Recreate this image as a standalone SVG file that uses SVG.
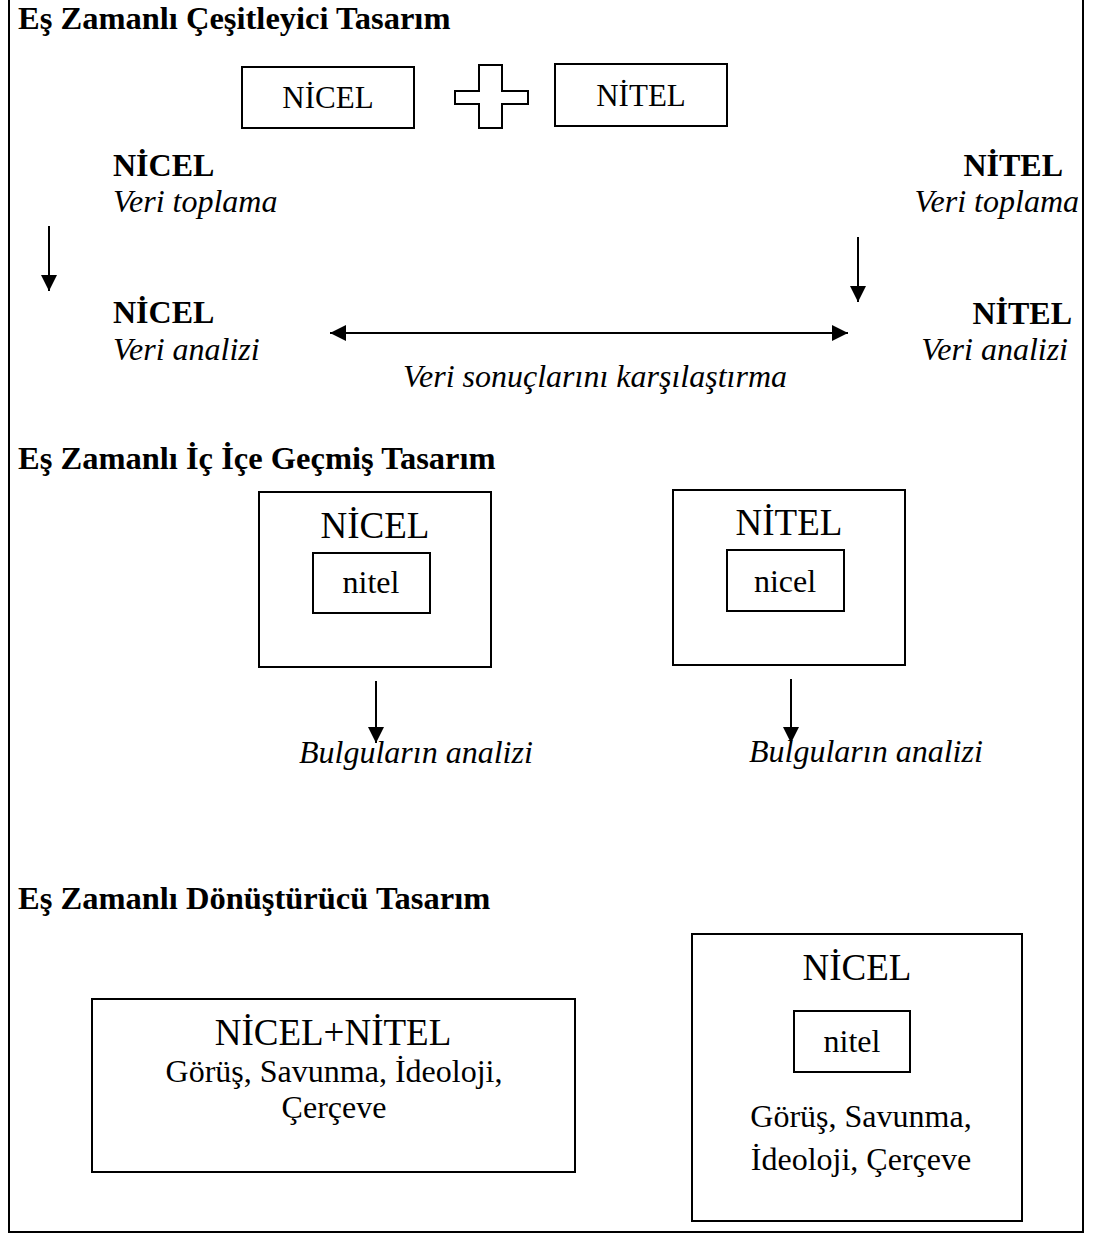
<svg xmlns="http://www.w3.org/2000/svg" width="1098" height="1234" viewBox="0 0 1098 1234">
<style>
text{font-family:"Liberation Serif","Times New Roman",serif;fill:#000}
.t{font-size:32.5px;font-weight:bold}
.b{font-size:32px;font-weight:bold}
.i{font-size:32px;font-style:italic}
.r{font-size:31px}
.big{font-size:37px}
.m{font-size:32px}
.box{fill:none;stroke:#000;stroke-width:2}
.con{stroke:#000;stroke-width:2;fill:none}
</style>
<defs>
<marker id="ah" markerUnits="userSpaceOnUse" markerWidth="16" markerHeight="16" refX="16" refY="8" orient="auto-start-reverse">
<path d="M0,0 L16,8 L0,16 z" fill="#000"/>
</marker>
</defs>
<rect x="9" y="-5" width="1074" height="1237" class="box"/>

<text class="t" x="18" y="29">Eş Zamanlı Çeşitleyici Tasarım</text>
<text class="t" x="18" y="469">Eş Zamanlı İç İçe Geçmiş Tasarım</text>
<text class="t" x="18" y="909">Eş Zamanlı Dönüştürücü Tasarım</text>

<g id="nicel-top">
<rect x="242" y="67" width="172" height="61" class="box"/>
<text class="r" x="328" y="108" text-anchor="middle">NİCEL</text>
</g>
<g id="plus">
<polygon points="479,65 502,65 502,91 528,91 528,104 502,104 502,128 479,128 479,104 455,104 455,91 479,91" class="box"/>
</g>
<g id="nitel-top">
<rect x="555" y="64" width="172" height="62" class="box"/>
<text class="r" x="641" y="106" text-anchor="middle">NİTEL</text>
</g>

<g id="nicel-toplama">
<text class="b" x="113" y="176">NİCEL</text>
<text class="i" x="113" y="212">Veri toplama</text>
</g>
<g id="nicel-analiz">
<text class="b" x="113" y="323">NİCEL</text>
<text class="i" x="113" y="360">Veri analizi</text>
</g>
<g id="nitel-toplama">
<text class="b" x="1063" y="176" text-anchor="end">NİTEL</text>
<text class="i" x="1079" y="212" text-anchor="end">Veri toplama</text>
</g>
<g id="nitel-analiz">
<text class="b" x="1072" y="324" text-anchor="end">NİTEL</text>
<text class="i" x="1068" y="360" text-anchor="end">Veri analizi</text>
</g>
<g id="karsilastirma">
<text class="i" x="403" y="387">Veri sonuçlarını karşılaştırma</text>
</g>

<g id="nested-nicel">
<rect x="259" y="492" width="232" height="175" class="box"/>
<text class="big" x="375" y="538" text-anchor="middle">NİCEL</text>
<rect x="313" y="553" width="117" height="60" class="box"/>
<text class="m" x="371" y="593" text-anchor="middle">nitel</text>
</g>
<g id="nested-nitel">
<rect x="673" y="490" width="232" height="175" class="box"/>
<text class="big" x="789" y="535" text-anchor="middle">NİTEL</text>
<rect x="727" y="550" width="117" height="61" class="box"/>
<text class="m" x="785" y="592" text-anchor="middle">nicel</text>
</g>
<g id="bulgu1">
<text class="i" x="299" y="763">Bulguların analizi</text>
</g>
<g id="bulgu2">
<text class="i" x="749" y="762">Bulguların analizi</text>
</g>

<g id="donusturucu-left">
<rect x="92" y="999" width="483" height="173" class="box"/>
<text class="big" x="333" y="1045" text-anchor="middle">NİCEL+NİTEL</text>
<text class="m" x="334" y="1082" text-anchor="middle">Görüş, Savunma, İdeoloji,</text>
<text class="m" x="334" y="1118" text-anchor="middle">Çerçeve</text>
</g>
<g id="donusturucu-right">
<rect x="692" y="934" width="330" height="287" class="box"/>
<text class="big" x="857" y="980" text-anchor="middle">NİCEL</text>
<rect x="794" y="1011" width="116" height="61" class="box"/>
<text class="m" x="852" y="1052" text-anchor="middle">nitel</text>
<text class="m" x="861" y="1127" text-anchor="middle">Görüş, Savunma,</text>
<text class="m" x="861" y="1170" text-anchor="middle">İdeoloji, Çerçeve</text>
</g>

<g id="connectors">
<line x1="49" y1="226" x2="49" y2="291" class="con" marker-end="url(#ah)"/>
<line x1="858" y1="237" x2="858" y2="302" class="con" marker-end="url(#ah)"/>
<line x1="330" y1="333" x2="848" y2="333" class="con" marker-start="url(#ah)" marker-end="url(#ah)"/>
<line x1="376" y1="681" x2="376" y2="743" class="con" marker-end="url(#ah)"/>
<line x1="791" y1="679" x2="791" y2="743" class="con" marker-end="url(#ah)"/>
</g>
</svg>
